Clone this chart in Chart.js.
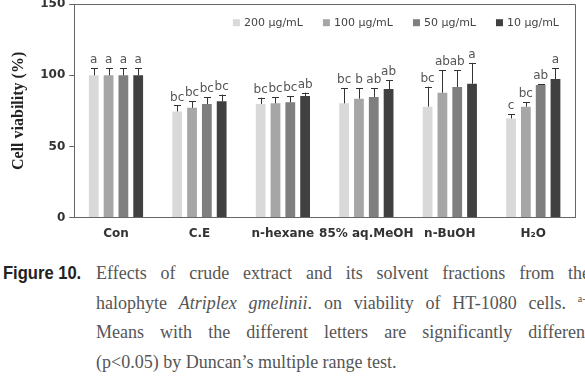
<!DOCTYPE html>
<html>
<head>
<meta charset="utf-8">
<script src="https://cdn.jsdelivr.net/npm/chart.js@4"></script>
<style>
  html, body { margin: 0; padding: 0; background: #fff; }
  body { width: 585px; height: 389px; overflow: hidden; position: relative; }
  #wrap { position: absolute; left: 0; top: -7px; width: 585px; height: 257px; }
  .cap { position: absolute; font-family: 'Liberation Serif', serif; font-size: 18px; color: #555; white-space: nowrap; }
  .line { position: absolute; left: 96px; width: 494px; text-align: justify; text-align-last: justify; }
  .line.last { text-align-last: left; }
  .fig { position: absolute; left: 3px; top: 263px; font-family: 'Liberation Sans', sans-serif; font-weight: bold; font-size: 18px; color: #222; transform: scaleX(0.92); transform-origin: left top; }
  sup { font-size: 10px; vertical-align: 7px; }
</style>
</head>
<body>
<div id="wrap"><canvas id="bars"></canvas></div>
<div class="fig">Figure 10.</div>
<div class="cap">
  <div class="line" style="top:263px">Effects of crude extract and its solvent fractions from the</div>
  <div class="line" style="top:293px">halophyte <i>Atriplex gmelinii</i>. on viability of HT-1080 cells. <sup>a-c</sup></div>
  <div class="line" style="top:322px">Means with the different letters are significantly different</div>
  <div class="line last" style="top:352px">(p&lt;0.05) by Duncan’s multiple range test.</div>
</div>
<script>
var categories = ['Con', 'C.E', 'n-hexane', '85% aq.MeOH', 'n-BuOH', 'H₂O'];
var doses = ['200 μg/mL', '100 μg/mL', '50 μg/mL', '10 μg/mL'];

var v200 = [100, 74.6, 79.8, 80.3, 78.0, 69.7];
var v100 = [100, 77.2, 80.3, 83.6, 87.8, 78.0];
var v50  = [100, 79.8, 81.0, 84.8, 91.8, 93.2];
var v10  = [100, 81.7, 85.4, 90.4, 94.1, 97.4];

var e200 = [5, 4.2, 4.5, 10.7, 14.0, 3.0];
var e100 = [5, 4.8, 4.4, 7.4, 15.7, 3.2];
var e50  = [5, 4.9, 4.4, 6.3, 11.7, 0.7];
var e10  = [5, 4.7, 2.4, 6.1, 14.6, 7.6];

var l200 = ['a', 'bc', 'bc', 'bc', 'bc', 'c'];
var l100 = ['a', 'bc', 'bc', 'b', 'ab', 'bc'];
var l50  = ['a', 'bc', 'bc', 'ab', 'ab', 'ab'];
var l10  = ['a', 'bc', 'ab', 'ab', 'a', 'a'];

var yTicks = [0, 50, 100, 150];

var colors = ['#d9d9d9', '#a6a6a6', '#7f7f7f', '#404040'];
var values = [v200, v100, v50, v10];
var errors = [e200, e100, e50, e10];
var letters = [l200, l100, l50, l10];

// error bars (upper half only), Duncan letters, legend and box
var errPlugin = {
    id: 'errPlugin',
    afterDatasetsDraw: function (chart) {
        var c = chart.ctx;
        var ys = chart.scales.y;
        var a = chart.chartArea;
        c.save();
        chart.data.datasets.forEach(function (ds, i) {
            var meta = chart.getDatasetMeta(i);
            meta.data.forEach(function (bar, j) {
                var top = ys.getPixelForValue(ds.data[j] + errors[i][j]);
                var x = Math.round(bar.x) + 0.5;
                c.strokeStyle = '#333';
                c.lineWidth = 1;
                c.beginPath();
                c.moveTo(x, bar.y);
                c.lineTo(x, top);
                c.moveTo(x - 3.5, Math.round(top) + 0.5);
                c.lineTo(x + 3.5, Math.round(top) + 0.5);
                c.stroke();
                c.fillStyle = '#555';
                c.font = '12px "DejaVu Sans", sans-serif';
                c.textAlign = 'center';
                c.textBaseline = 'bottom';
                c.fillText(letters[i][j], bar.x, top - 2);
            });
        });

        // legend, right aligned inside the plot box
        c.font = '11px "DejaVu Sans", sans-serif';
        c.textBaseline = 'middle';
        c.textAlign = 'left';
        var widths = doses.map(function (d) { return c.measureText(d).width; });
        var gap = 20, box = 7;
        var total = 0;
        widths.forEach(function (w, i) { total += box + 4 + w + (i ? gap : 0); });
        var lx = a.right - 16 - total;
        var ly = a.top + 19;
        doses.forEach(function (d, i) {
            c.fillStyle = colors[i];
            c.fillRect(lx, ly - 4, box, box);
            c.fillStyle = '#444';
            c.fillText(d, lx + box + 4, ly);
            lx += box + 4 + widths[i] + gap;
        });

        // box top and right
        c.strokeStyle = '#666';
        c.beginPath();
        c.moveTo(a.left, Math.round(a.top) + 0.5);
        c.lineTo(Math.round(a.right) + 0.5, Math.round(a.top) + 0.5);
        c.lineTo(Math.round(a.right) + 0.5, a.bottom);
        c.stroke();
        c.restore();
    }
};

new Chart(document.getElementById('bars'), {
    type: 'bar',
    data: {
        labels: categories,
        datasets: doses.map(function (d, i) {
            return {
                label: d,
                data: values[i],
                backgroundColor: colors[i],
                borderWidth: 0,
                categoryPercentage: 0.71,
                barPercentage: 0.66
            };
        })
    },
    options: {
        responsive: true,
        maintainAspectRatio: false,
        animation: false,
        layout: { padding: { left: 9, right: 10, top: 0, bottom: 0 } },
        plugins: {
            tooltip: { enabled: false },
            legend: { display: false }
        },
        scales: {
            x: {
                grid: { drawOnChartArea: false, drawTicks: false },
                border: { display: true, color: '#666' },
                ticks: {
                    color: '#333',
                    padding: 9,
                    maxRotation: 0,
                    autoSkip: false,
                    font: { family: '"DejaVu Sans", sans-serif', size: 12, weight: 'bold' }
                }
            },
            y: {
                min: 0,
                max: 150,
                afterBuildTicks: function (axis) {
                    axis.ticks = yTicks.map(function (v) { return { value: v }; });
                },
                grid: { drawOnChartArea: false, drawTicks: true, tickLength: 5, color: '#666' },
                border: { display: true, color: '#666' },
                ticks: {
                    color: '#333',
                    padding: 4,
                    font: { family: '"DejaVu Sans", sans-serif', size: 12, weight: 'bold' }
                },
                title: {
                    display: true,
                    text: 'Cell viability (%)',
                    color: '#222',
                    padding: { top: 0, bottom: 8 },
                    font: { family: '"Liberation Serif", serif', size: 16, weight: 'bold' }
                }
            }
        }
    },
    plugins: [errPlugin]
});
</script>
</body>
</html>
